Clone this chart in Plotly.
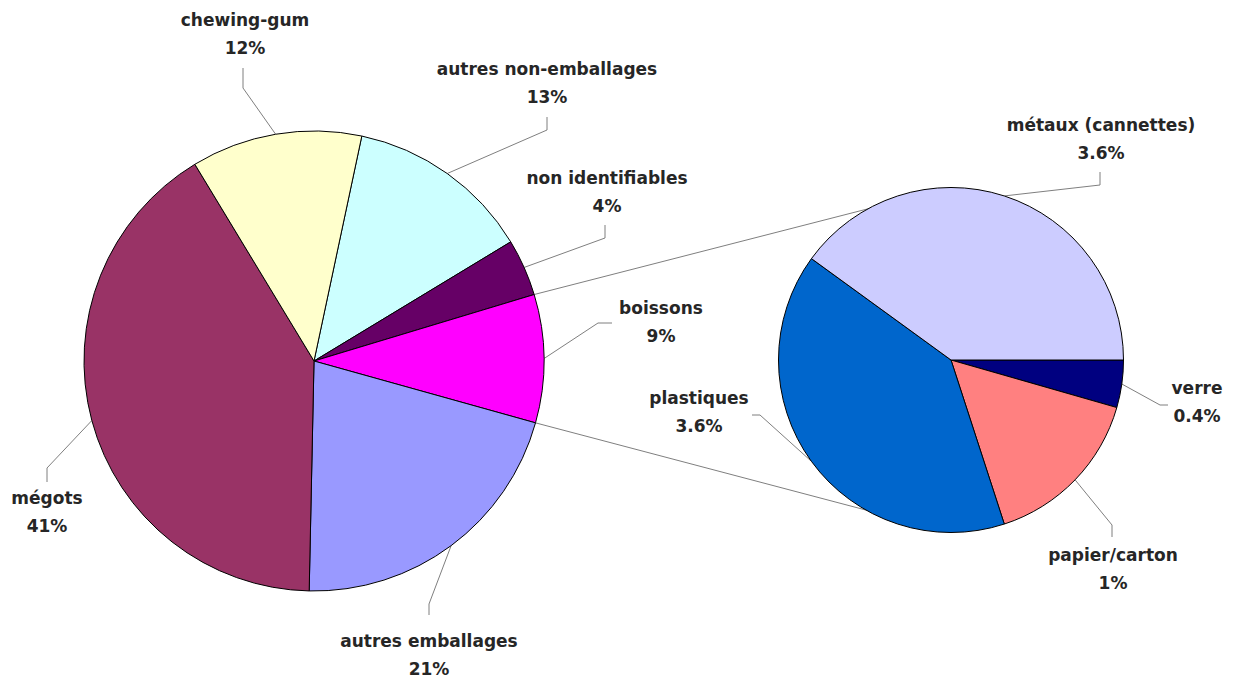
import math
import plotly.graph_objects as go

W, H = 1236, 684

# ---------------- data ----------------
main_labels = ["autres non-emballages", "non identifiables", "boissons",
               "autres emballages", "mégots", "chewing-gum"]
main_values = [13, 4, 9, 21, 41, 12]
main_pct = ["13%", "4%", "9%", "21%", "41%", "12%"]

sub_labels = ["verre", "papier/carton", "plastiques", "métaux (cannettes)"]
sub_values = [0.4, 1.4, 3.6, 3.6]
sub_pct = ["0.4%", "1%", "3.6%", "3.6%"]

# ---------------- styling / layout ----------------
main_colors = ["#CCFFFF", "#660066", "#FF00FF", "#9999FF", "#993366", "#FFFFCC"]
sub_colors = ["#000080", "#FF8080", "#0066CC", "#CCCCFF"]

MAIN = dict(cx=314, cy=361, r=230, rotation=12)
SUB = dict(cx=951, cy=360, r=172.5, rotation=90)

# label text centre, leader elbow and leader end (pixels)
LABEL_LAYOUT = {
    "autres non-emballages": dict(text=(547, 71), elbow=(547, 130), end=(547, 117)),
    "non identifiables": dict(text=(607, 180), elbow=(605, 238), end=(605, 225)),
    "boissons": dict(text=(661, 310), elbow=(598, 323), end=(612, 323)),
    "autres emballages": dict(text=(429, 643), elbow=(429, 604), end=(429, 615)),
    "mégots": dict(text=(47, 500), elbow=(47, 468), end=(47, 482)),
    "chewing-gum": dict(text=(245, 22), elbow=(243, 88), end=(243, 68)),
    "verre": dict(text=(1197, 390), elbow=(1160, 405), end=(1168, 405)),
    "papier/carton": dict(text=(1113, 557), elbow=(1112, 525), end=(1112, 537)),
    "plastiques": dict(text=(699, 400), elbow=(760, 415), end=(752, 415)),
    "métaux (cannettes)": dict(text=(1101, 127), elbow=(1100, 185), end=(1100, 172)),
}
LINE_GAP = 28
FONT = dict(family="DejaVu Sans", size=17, color="#262626")
LEADER = dict(color="#7f7f7f", width=1)


def domain(p):
    return dict(x=[(p["cx"] - p["r"]) / W, (p["cx"] + p["r"]) / W],
                y=[1 - (p["cy"] + p["r"]) / H, 1 - (p["cy"] - p["r"]) / H])


def edge(p, ang):
    a = math.radians(ang)
    return (p["cx"] + p["r"] * math.sin(a), p["cy"] - p["r"] * math.cos(a))


def slice_angles(p, values):
    tot = sum(values)
    out = []
    cur = p["rotation"]
    for v in values:
        span = 360.0 * v / tot
        out.append((cur, cur + span))
        cur += span
    return out


fig = go.Figure()

# overlay pixel axes for leader lines and labels
lx, ly = [], []
for p, labels, values in ((MAIN, main_labels, main_values), (SUB, sub_labels, sub_values)):
    for lab, (a0, a1) in zip(labels, slice_angles(p, values)):
        ex, ey = edge(p, (a0 + a1) / 2)
        cfg = LABEL_LAYOUT[lab]
        lx += [ex, cfg["elbow"][0], cfg["end"][0], None]
        ly += [ey, cfg["elbow"][1], cfg["end"][1], None]

# connector lines: boissons slice edges to top / bottom of secondary pie
b_idx = main_labels.index("boissons")
b0, b1 = slice_angles(MAIN, main_values)[b_idx]
p_top = edge(MAIN, b0)
p_bot = edge(MAIN, b1)
lx += [p_top[0], SUB["cx"], None, p_bot[0], SUB["cx"], None]
ly += [p_top[1], SUB["cy"] - SUB["r"], None, p_bot[1], SUB["cy"] + SUB["r"], None]

fig.add_trace(go.Scatter(x=lx, y=ly, mode="lines", line=LEADER,
                         hoverinfo="skip", showlegend=False))

tx, ty, tt = [], [], []
for labels, pcts in ((main_labels, main_pct), (sub_labels, sub_pct)):
    for lab, pc in zip(labels, pcts):
        cx, cy = LABEL_LAYOUT[lab]["text"]
        tx += [cx, cx]
        ty += [cy, cy + LINE_GAP]
        tt += ["<b>%s</b>" % lab, "<b>%s</b>" % pc]

fig.add_trace(go.Scatter(x=tx, y=ty, text=tt, mode="text", textposition="middle center",
                         textfont=FONT, hoverinfo="skip", showlegend=False))

fig.add_trace(go.Pie(labels=main_labels, values=main_values, sort=False,
                     direction="clockwise", rotation=MAIN["rotation"],
                     marker=dict(colors=main_colors, line=dict(color="#000000", width=1)),
                     textinfo="none", domain=domain(MAIN), showlegend=False))
fig.add_trace(go.Pie(labels=sub_labels, values=sub_values, sort=False,
                     direction="clockwise", rotation=SUB["rotation"],
                     marker=dict(colors=sub_colors, line=dict(color="#000000", width=1)),
                     textinfo="none", domain=domain(SUB), showlegend=False))

fig.update_layout(
    width=W, height=H, margin=dict(l=0, r=0, t=0, b=0),
    paper_bgcolor="white", plot_bgcolor="rgba(0,0,0,0)", showlegend=False,
    xaxis=dict(range=[0, W], visible=False, fixedrange=True, domain=[0, 1]),
    yaxis=dict(range=[H, 0], visible=False, fixedrange=True, domain=[0, 1]),
)

fig.write_html("out.html",
               config={"displayModeBar": False},
               post_script="document.body.style.margin='0px';document.body.style.overflow='hidden';")
